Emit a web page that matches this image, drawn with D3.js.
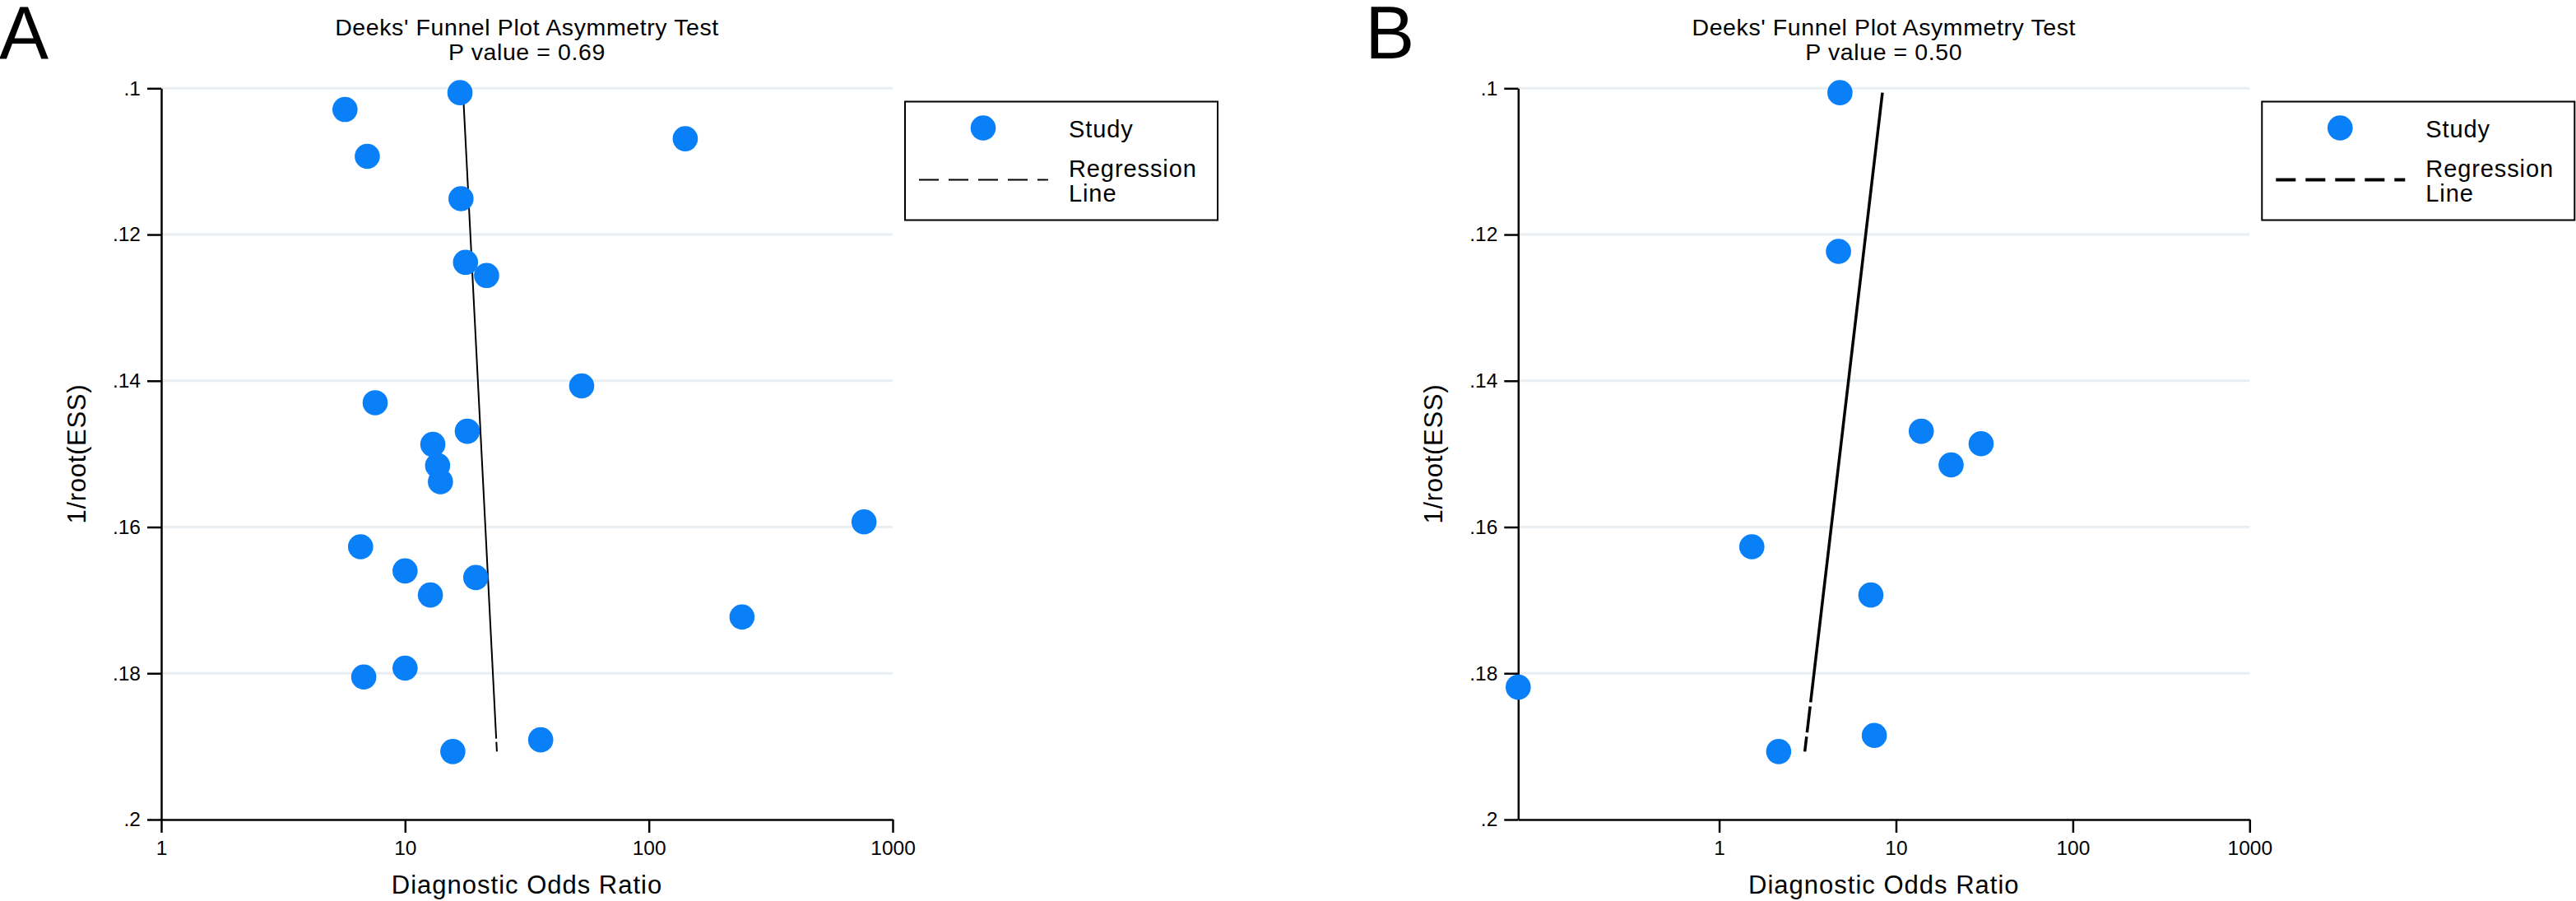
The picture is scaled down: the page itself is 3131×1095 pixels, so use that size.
<!DOCTYPE html>
<html>
<head>
<meta charset="utf-8">
<script src="https://cdn.jsdelivr.net/npm/d3@7"></script>
<style>
  body { margin: 0; background: #fff; }
  svg { display: block; font-family: "Liberation Sans", Arial, sans-serif; }
</style>
</head>
<body>
<svg width="3131" height="1095"></svg>
<script>
'use strict';

// panel A : diagnostic odds ratio vs 1/root(ESS)
var dorA = [16.8, 5.67, 7.0, 16.96, 17.7, 21.6, 7.54, 18.0, 13.0, 13.6, 13.97, 6.57,
            10.0, 19.5, 12.7, 6.77, 10.0, 15.7, 141, 53.0, 763, 241, 36.0];
var essA = [.1006, .1029, .1093, .1151, .1238, .1256, .1430, .1469, .1487, .1516, .1538, .1627,
            .1660, .1669, .1693, .1805, .1793, .1907, .1069, .1407, .1593, .1723, .1891];
var regDorA = [17.3, 23.8];
var regEssA = [.1006, .1907];

// panel B
var dorB = [4.82, 4.73, 13.9, 30.3, 20.5, 1.53, 7.21, 0.073, 7.54, 2.17];
var essB = [.1006, .1223, .1469, .1486, .1515, .1627, .1693, .1819, .1885, .1907];
var regDorB = [8.38, 3.05];
var regEssB = [.1006, .1907];

var yTicks = [.1, .12, .14, .16, .18, .2];
var xTicks = [1, 10, 100, 1000];
var letters = ["A", "B"];
var pValues = ["0.69", "0.50"];
var titleText = "Deeks' Funnel Plot Asymmetry Test";
var xLabel = "Diagnostic Odds Ratio";
var yLabel = "1/root(ESS)";
var legendLabels = ["Study", "Regression", "Line"];

var blue = "#0a80f8";
var svg = d3.select("svg");

var top_ = 107.3, bottom = 996, plotW = 889;

var panels = [
  {letter: letters[0], p: pValues[0], dor: dorA, ess: essA, regDor: regDorA, regEss: regEssA,
   left: 196, xMin: 1, lw: 2, legLw: 1.8, dash: "786,4,40"},
  {letter: letters[1], p: pValues[1], dor: dorB, ess: essB, regDor: regDorB, regEss: regEssB,
   left: 1845.3, xMin: d3.min(dorB), lw: 3.5, legLw: 4, dash: "746,5,32,5,40"}
];

panels.forEach(function(pn) {
  var x = d3.scaleLog().domain([pn.xMin, 1000]).range([pn.left, pn.left + plotW]);
  var y = d3.scaleLinear().domain([.1, .2]).range([top_, bottom]);
  var g = svg.append("g");
  var cx = pn.left + plotW / 2;

  // panel letter
  g.append("text")
    .attr("x", pn.left - 196 + (pn.letter == "B" ? 10 : -1))
    .attr("y", 71)
    .attr("font-size", 90)
    .text(pn.letter);

  // title
  g.append("text").attr("x", cx).attr("y", 43.3)
    .attr("text-anchor", "middle").attr("font-size", 28.5).attr("letter-spacing", 0.6)
    .text(titleText);
  g.append("text").attr("x", cx).attr("y", 72.7)
    .attr("text-anchor", "middle").attr("font-size", 28.5).attr("letter-spacing", 0.6)
    .text("P value = " + pn.p);

  // grid lines
  g.selectAll(".grid")
    .data(yTicks.slice(0, -1))
    .enter().append("line")
    .attr("x1", pn.left).attr("x2", pn.left + plotW)
    .attr("y1", function(d) { return y(d); })
    .attr("y2", function(d) { return y(d); })
    .attr("stroke", "#e8eef1").attr("stroke-width", 3);

  // axes
  var yAxis = d3.axisLeft(y).tickValues(yTicks).tickSize(17).tickSizeOuter(0).tickPadding(8)
    .tickFormat(function(d) { return d3.format(".2~f")(d).replace(/^0/, ""); });
  var ya = g.append("g").attr("transform", "translate(" + pn.left + ",0)").call(yAxis);

  var xAxis = d3.axisBottom(x).tickValues(xTicks).tickSize(16).tickSizeOuter(0).tickPadding(9.5)
    .tickFormat(d3.format("d"));
  var xa = g.append("g").attr("transform", "translate(0," + bottom + ")").call(xAxis);

  [ya, xa].forEach(function(a) {
    a.attr("font-family", null).attr("font-size", 24.5);
    a.select(".domain").attr("stroke", "#000").attr("stroke-width", 2.5);
    a.selectAll(".tick line").attr("stroke", "#000").attr("stroke-width", 2.5);
    a.selectAll(".tick text").attr("fill", "#000");
  });

  // axis titles
  g.append("text").attr("x", cx).attr("y", 1086)
    .attr("text-anchor", "middle").attr("font-size", 31).attr("letter-spacing", 1)
    .text(xLabel);
  g.append("text")
    .attr("transform", "translate(" + (pn.left - 92) + "," + ((top_ + bottom) / 2) + ") rotate(-90)")
    .attr("text-anchor", "middle").attr("font-size", 31).attr("letter-spacing", 0.7)
    .text(yLabel);

  // regression line
  var reg = pn.regDor.map(function(d, i) { return [d, pn.regEss[i]]; });
  g.append("path")
    .datum(reg)
    .attr("d", d3.line().x(function(d) { return x(d[0]); }).y(function(d) { return y(d[1]); }))
    .attr("fill", "none").attr("stroke", "#000").attr("stroke-width", pn.lw)
    .attr("stroke-dasharray", pn.dash);

  // studies
  g.selectAll(".dot")
    .data(pn.dor.map(function(d, i) { return {dor: d, ess: pn.ess[i]}; }))
    .enter().append("circle")
    .attr("class", "dot")
    .attr("cx", function(d) { return x(d.dor); })
    .attr("cy", function(d) { return y(d.ess); })
    .attr("r", 15.3)
    .attr("fill", blue);

  // legend
  var lx = pn.left + plotW + 15, ly = 123.5;
  var leg = g.append("g").attr("transform", "translate(" + lx + "," + ly + ")");
  leg.append("rect").attr("width", 380).attr("height", 144)
    .attr("fill", "#fff").attr("stroke", "#000").attr("stroke-width", 2);
  leg.append("circle").attr("cx", 95).attr("cy", 32).attr("r", 15.3).attr("fill", blue);
  leg.append("line").attr("x1", 17).attr("x2", 174).attr("y1", 95).attr("y2", 95)
    .attr("stroke", "#000").attr("stroke-width", pn.legLw).attr("stroke-dasharray", "24,12");
  leg.selectAll(".lt")
    .data(legendLabels)
    .enter().append("text")
    .attr("x", 199)
    .attr("y", function(d, i) { return [43.5, 91, 121][i]; })
    .attr("font-size", 29).attr("letter-spacing", 0.9)
    .text(function(d) { return d; });
});
</script>
</body>
</html>
